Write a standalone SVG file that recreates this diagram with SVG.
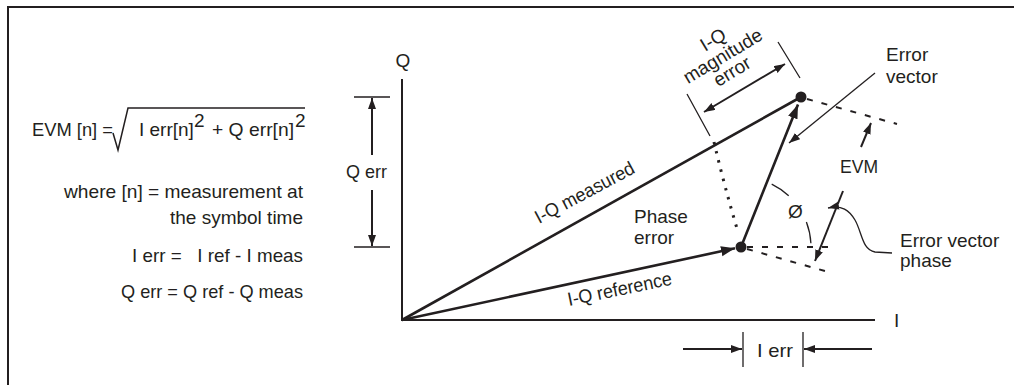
<svg xmlns="http://www.w3.org/2000/svg" width="1014" height="385" viewBox="0 0 1014 385">
<style>
  text { font-family: "Liberation Sans", Arial, sans-serif; fill: #231f20; font-size: 19px; }
  .ln { stroke: #231f20; fill: none; }
  .axis { stroke-width: 2; }
  .vec { stroke-width: 2.6; }
  .thin { stroke-width: 1.3; }
  .med { stroke-width: 2; }
  .dash { stroke-width: 2; stroke-dasharray: 6 9; }
  .dot { stroke-width: 3; stroke-dasharray: 2.5 7; }
</style>
<defs>
  <marker id="big" markerUnits="userSpaceOnUse" markerWidth="15" markerHeight="11" refX="14" refY="5" orient="auto">
    <path d="M0,0 L14,5 L0,10 z" fill="#231f20"/>
  </marker>
  <marker id="small" markerUnits="userSpaceOnUse" markerWidth="12" markerHeight="9" refX="11" refY="4" orient="auto-start-reverse">
    <path d="M0,0 L11,4 L0,8 z" fill="#231f20"/>
  </marker>
</defs>
<rect width="1014" height="385" fill="#fff"/>
<g id="frame" class="ln">
  <path class="med" d="M8,385 L8,7 L1014,7"/>
</g>

<g id="formula">
  <text x="32" y="136" textLength="81" lengthAdjust="spacingAndGlyphs">EVM [n] =</text>
  <path class="ln" stroke-width="1.5" d="M113,133 L118,150 L128,108 L305,108"/>
  <text x="139" y="136">I err[n]</text>
  <text x="194" y="127" font-size="18">2</text>
  <text x="212" y="136" textLength="82" lengthAdjust="spacingAndGlyphs">+ Q err[n]</text>
  <text x="295" y="127" font-size="18">2</text>
  <text x="303" y="198" text-anchor="end" textLength="239" lengthAdjust="spacingAndGlyphs">where [n] = measurement at</text>
  <text x="303" y="224" text-anchor="end" textLength="133" lengthAdjust="spacingAndGlyphs">the symbol time</text>
  <text x="303" y="262" text-anchor="end" textLength="171" lengthAdjust="spacingAndGlyphs" xml:space="preserve">I err =   I ref - I meas</text>
  <text x="303" y="298" text-anchor="end" textLength="182" lengthAdjust="spacingAndGlyphs">Q err = Q ref - Q meas</text>
</g>

<g id="axes" class="ln axis">
  <path d="M402,79 L402,320 L875,320"/>
</g>
<g id="axis-labels">
  <text x="403" y="67" text-anchor="middle">Q</text>
  <text x="894" y="327">I</text>
</g>

<g id="q-err">
  <path class="ln thin" d="M354,97 L390,97 M354,247 L390,247"/>
  <path class="ln med" d="M372,155 L372,98" marker-end="url(#small)"/>
  <path class="ln med" d="M372,190 L372,246" marker-end="url(#small)"/>
  <text x="346" y="178" textLength="41" lengthAdjust="spacingAndGlyphs">Q err</text>
</g>

<g id="i-err">
  <path class="ln thin" d="M743,332 L743,367 M803,332 L803,367"/>
  <path class="ln med" d="M683,349 L742,349" marker-end="url(#small)"/>
  <path class="ln med" d="M872,349 L804,349" marker-end="url(#small)"/>
  <text x="757" y="357" font-size="20" textLength="36" lengthAdjust="spacingAndGlyphs">I err</text>
</g>

<g id="connectors">
  <path id="measured" class="ln vec" d="M402,320 L801,97"/>
  <path id="reference" class="ln vec" d="M402,320 L735,248.3" marker-end="url(#big)"/>
  <path id="error-vector" class="ln vec" d="M741,247 L798,104.5" marker-end="url(#big)"/>
  <path id="phase-arc" class="ln dot" d="M714,142 Q724,185 738,232"/>
  <path class="ln dash" d="M807,99 L897,124"/>
  <path class="ln dash" d="M747,247 L833,247"/>
  <path class="ln dash" d="M747,249 L825,271"/>
  <path class="ln thin" d="M771.7,184.1 A70,70 0 0 1 788.7,195.8"/>
  <path class="ln thin" d="M806.4,221.9 A70,70 0 0 1 810.9,243.3"/>
  <path class="ln med" d="M843,191 L815,261" marker-end="url(#small)"/>
  <path class="ln thin" d="M687,94 L710,136 M778,42 L800,78"/>
  <path class="ln med" d="M704,112 L785,64" marker-start="url(#small)" marker-end="url(#small)"/>
  <path class="ln thin" d="M875,73 L789,143" marker-end="url(#small)"/>
  <path class="ln med" d="M861,147 L871,123" marker-end="url(#small)"/>
  <path class="ln thin" d="M892,253 L875,252 C862,250 862,232 855,220 C849,210 842,205 828,208" marker-end="url(#small)"/>
</g>

<g id="dots" fill="#231f20">
  <circle cx="801" cy="97" r="5.5"/>
  <circle cx="741" cy="247" r="5.5"/>
</g>

<g id="labels">
  <text x="539" y="224" transform="rotate(-28 539 224)" textLength="110" lengthAdjust="spacingAndGlyphs">I-Q measured</text>
  <text x="569" y="306" transform="rotate(-11.7 569 306)" textLength="106" lengthAdjust="spacingAndGlyphs">I-Q reference</text>
  <text x="634" y="223">Phase</text>
  <text x="634" y="244">error</text>
  <g transform="translate(724,58) rotate(-31)">
    <text x="0" y="-15" text-anchor="middle" font-size="18">I-Q</text>
    <text x="0" y="4" text-anchor="middle" font-size="18">magnitude</text>
    <text x="0" y="22" text-anchor="middle" font-size="18">error</text>
  </g>
  <text x="886" y="61">Error</text>
  <text x="886" y="83">vector</text>
  <text x="840" y="173" textLength="38" lengthAdjust="spacingAndGlyphs">EVM</text>
  <text x="788" y="218" font-size="22">Ø</text>
  <text x="900" y="247">Error vector</text>
  <text x="900" y="267">phase</text>
</g>
</svg>
